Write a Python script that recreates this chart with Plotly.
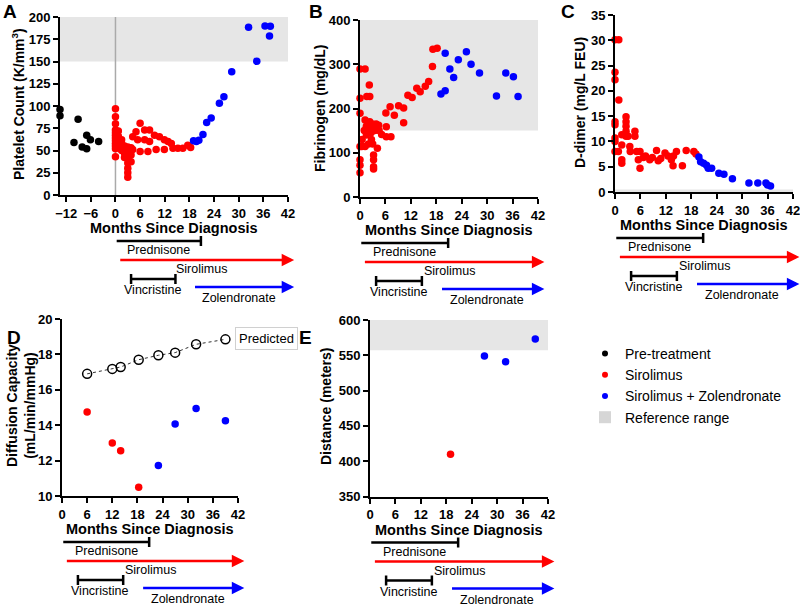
import plotly.graph_objects as go

# ---------------- data ----------------
# Panel A: platelet count (K/mm3)
pre_months = [-13.5, -13.5, -9.1, -10.1, -8.1, -7.0, -7.0, -6.1, -4.1]
pre_platelets = [96, 89, 85, 59, 54, 52, 67, 62, 60]

siro_plt_months = [0, 0, 0, 0, 0, 0, 0, 0, 0, 0, 0, 0,
                   0.7, 0.7, 0.7, 0.7, 1.5, 1.5, 1.5, 1.5, 2.2, 2.2, 2.2,
                   3.0, 3.0, 3.0, 3.0, 3.0, 3.0, 3.0, 3.8, 3.8, 3.8, 4.2, 4.2,
                   5.0, 5.4, 6.0, 6.0, 7.1, 7.1, 7.9, 8.3, 8.3, 9.5, 9.9,
                   10.7, 11.9, 11.9, 12.8, 13.6, 14.0, 15.2, 16.4, 17.6, 18.3]
siro_plt = [97, 88, 80, 73, 70, 67, 64, 61, 58, 55, 52, 43,
            72, 66, 60, 56, 62, 58, 54, 50, 55, 47, 42,
            54, 48, 42, 36, 30, 25, 20, 53, 45, 37.5, 65.5, 51,
            71, 62, 80.5, 49, 73, 62, 49, 73, 60, 67, 51,
            65.5, 62, 51, 60, 58, 52.5, 52.5, 52.5, 56, 53.5]

zol_plt_months = [19.0, 19.7, 20.3, 21.3, 22.2, 23.3, 25.3, 26.4, 28.3, 32.4, 34.4, 36.4, 37.7, 37.5]
zol_plt = [61, 60, 61.5, 68, 81.5, 86.5, 103, 110.5, 138.6, 188.4, 150.2, 190, 189.6, 178.6]

# Panel B: fibrinogen (mg/dL)
siro_fib_months = [0, 1.2, 0, 1.6, 2.2, 2.3, 0, 1.2, 0, 0.4, 0, 0, 0, 1.2, 0.5,
                   1.0, 1.5, 1.5, 2.0, 2.3, 2.6, 2.9, 3.2, 3.5, 3.8, 4.1, 4.4,
                   2.0, 2.7, 3.2, 3.2, 3.2, 3.2, 4.1, 3.0, 4.5, 5.1, 6.2, 6.2,
                   7.3, 6.1, 7.1, 8.1, 9.1, 10.3, 10.3, 11.3, 12.3, 13.4, 14.2,
                   15.4, 16.2, 17.1, 17.2, 18.2]
siro_fib = [289, 289, 223, 227, 253, 227, 189, 174, 114, 114, 84, 72, 55, 114, 130,
            150, 140, 160, 150, 170, 145, 165, 160, 150, 165, 155, 162,
            120, 130, 95, 84, 68.5, 63, 110, 120, 150, 141, 136, 159,
            136, 190, 204, 185, 206, 201, 168, 230, 225, 246, 238,
            250, 261, 295, 334, 336]
zol_fib_months = [19.1, 20.1, 20.1, 21.2, 22.1, 23.2, 25.1, 26.2, 28.2, 32.2, 34.4, 36.2, 37.3]
zol_fib = [233, 240, 325, 289, 270, 310, 328, 300, 280, 228, 280, 272, 227]

# Panel C: D-dimer (mg/L FEU)
siro_dd_months = [0, 0.9, 0, 0, 0.9, 0, 0, 0, 0, 0, 0.8, 1.6, 1.6, 1.6, 1.6,
                  2.6, 2.6, 2.6, 2.6, 2.6, 3.1, 3.5, 3.6, 4.7, 4.7, 5.1, 5.9, 5.9,
                  5.5, 6.7, 7.2, 8.2, 8.8, 9.8, 10.2, 10.8, 11.8, 12.5, 13.3,
                  13.8, 14.5, 15.9, 16.8, 18.6, 19.1, 13.7]
siro_dd = [30.1, 30.1, 23.7, 22.2, 18.2, 13.9, 13.3, 10.7, 10.0, 8.0, 8.0, 6.4, 5.7, 11.3, 9.3,
           14.9, 13.9, 13.0, 12.0, 11.0, 11.0, 9.0, 8.0, 12.0, 11.0, 8.0, 8.0, 4.7,
           6.4, 6.8, 7.1, 6.4, 6.8, 8.2, 6.2, 6.6, 7.7, 7.1, 6.4,
           7.1, 8.0, 5.2, 8.2, 8.0, 7.5, 5.2]
zol_dd_months = [19.8, 20.2, 20.9, 21.6, 22.0, 22.8, 24.5, 25.7, 27.7, 31.6, 33.7, 35.6, 36.0, 36.7]
zol_dd = [6.9, 6.0, 5.7, 5.3, 4.7, 4.7, 3.7, 3.5, 2.6, 1.8, 1.8, 1.8, 1.4, 1.2]

# Panel D: diffusion capacity (mL/min/mmHg)
dlco_pred_months = [6, 12, 14, 18.3, 23, 27, 32, 39]
dlco_pred = [16.9, 17.18, 17.29, 17.7, 17.95, 18.1, 18.57, 18.85]
siro_dlco_months = [6, 12, 14, 18.3]
siro_dlco = [14.75, 13.0, 12.56, 10.5]
zol_dlco_months = [23, 27, 32, 39]
zol_dlco = [11.73, 14.07, 14.95, 14.25]

# Panel E: six-minute walk distance (meters)
siro_walk_months = [19]
siro_walk = [410]
zol_walk_months = [27, 32, 39]
zol_walk = [549, 541, 573]

# reference ranges
ref_plt = (150, 200)
ref_fib = (150, 400)
ref_dd = (0, 0.5)
ref_walk = (557, 600)

# treatments (months)
prednisone = (0.3, 20.8)
sirolimus = (0.8, 43.5)
vincristine = (3.8, 14.6)
zolendronate = (19, 43.5)
label_pos = {"Prednisone": 10.5, "Sirolimus": 21, "Vincristine": 9, "Zolendronate": 30}

month_ticks_A = [-12, -6, 0, 6, 12, 18, 24, 30, 36, 42]
month_ticks = [0, 6, 12, 18, 24, 30, 36, 42]

# ---------------- layout helpers ----------------
W, H = 800, 605
FONT = "Liberation Sans, Arial, sans-serif"
RED, BLUE = "#ff0000", "#0000ff"
BAND = "#e6e6e6"


def px(p):
    return p / W


def py(p):
    return 1 - p / H


fig = go.Figure()

MS = 7.5


def dots(x, y, color, xa, ya):
    fig.add_trace(go.Scatter(x=x, y=y, mode="markers", xaxis=xa, yaxis=ya,
                             marker=dict(color=color, size=MS, line=dict(width=0)), showlegend=False,
                             cliponaxis=False, hoverinfo="x+y"))


# Panel A
dots(pre_months, pre_platelets, "black", "x", "y")
dots(siro_plt_months, siro_plt, RED, "x", "y")
dots(zol_plt_months, zol_plt, BLUE, "x", "y")
# Panel B
dots(siro_fib_months, siro_fib, RED, "x2", "y2")
dots(zol_fib_months, zol_fib, BLUE, "x2", "y2")
# Panel C
dots(siro_dd_months, siro_dd, RED, "x3", "y3")
dots(zol_dd_months, zol_dd, BLUE, "x3", "y3")
# Panel D
fig.add_trace(go.Scatter(x=dlco_pred_months, y=dlco_pred, mode="lines+markers", xaxis="x4", yaxis="y4",
                         line=dict(color="#333333", width=1, dash="dot"),
                         marker=dict(symbol="circle-open", color="black", size=9, line=dict(width=1.5)),
                         showlegend=False, cliponaxis=False))
dots(siro_dlco_months, siro_dlco, RED, "x4", "y4")
dots(zol_dlco_months, zol_dlco, BLUE, "x4", "y4")
# Panel E
dots(siro_walk_months, siro_walk, RED, "x5", "y5")
dots(zol_walk_months, zol_walk, BLUE, "x5", "y5")

# legend-only traces
for name, col in [("Pre-treatment", "black"), ("Sirolimus", RED), ("Sirolimus + Zolendronate", BLUE)]:
    fig.add_trace(go.Scatter(x=[None], y=[None], mode="markers", name=name,
                             marker=dict(color=col, size=6, line=dict(width=0)), xaxis="x", yaxis="y"))
fig.add_trace(go.Bar(x=[None], y=[None], name="Reference range",
                     marker=dict(color="#d6d6d6", line=dict(width=0)), xaxis="x", yaxis="y"))

# ---------------- axes ----------------
tickfont = dict(family=FONT, size=13, color="black", weight="bold")
common = dict(showline=True, linecolor="black", linewidth=2, ticks="outside", ticklen=5,
              tickwidth=2, tickcolor="black", showgrid=False, zeroline=False,
              tickfont=tickfont, fixedrange=True, automargin=False, ticklabeloverflow="allow")

panels = {
    # name: (x px left, x px right, y px top, y px bottom)
    "A": (60, 288, 17, 195),
    "B": (360, 538, 20, 197),
    "C": (615, 793, 15, 192),
    "D": (62, 238, 319, 496),
    "E": (370, 548, 320, 496.5),
}


def dom(p):
    l, r, t, b = panels[p]
    return [px(l), px(r)], [py(b), py(t)]


dxA, dyA = dom("A")
dxB, dyB = dom("B")
dxC, dyC = dom("C")
dxD, dyD = dom("D")
dxE, dyE = dom("E")

fig.update_layout(
    template="none",
    xaxis=dict(domain=dxA, range=[-13.5, 42], tickvals=month_ticks_A, anchor="y", **common),
    yaxis=dict(domain=dyA, range=[0, 200], tickvals=list(range(0, 201, 25)), anchor="x", **common),
    xaxis2=dict(domain=dxB, range=[0, 42], tickvals=month_ticks, anchor="y2", **common),
    yaxis2=dict(domain=dyB, range=[0, 400], tickvals=[0, 100, 200, 300, 400], anchor="x2", **common),
    xaxis3=dict(domain=dxC, range=[0, 42], tickvals=month_ticks, anchor="y3", **common),
    yaxis3=dict(domain=dyC, range=[0, 35], tickvals=list(range(0, 36, 5)), anchor="x3", **common),
    xaxis4=dict(domain=dxD, range=[0, 42], tickvals=month_ticks, anchor="y4", **common),
    yaxis4=dict(domain=dyD, range=[10, 20], tickvals=[10, 12, 14, 16, 18, 20], anchor="x4", **common),
    xaxis5=dict(domain=dxE, range=[0, 42], tickvals=month_ticks, anchor="y5", **common),
    yaxis5=dict(domain=dyE, range=[350, 600], tickvals=list(range(350, 601, 50)), anchor="x5", **common),
)

shapes = []
annotations = []

# reference bands
for xa, ya, rng in [("x", "y", ref_plt), ("x2", "y2", ref_fib), ("x3", "y3", ref_dd), ("x5", "y5", ref_walk)]:
    shapes.append(dict(type="rect", xref=xa + " domain", yref=ya, x0=0, x1=1, y0=rng[0], y1=rng[1],
                       fillcolor=BAND, line=dict(width=0), layer="below"))
# diagnosis line in A
shapes.append(dict(type="line", xref="x", yref="y domain", x0=0, x1=0, y0=0, y1=1,
                   line=dict(color="#aaaaaa", width=1.5), layer="below"))

# treatment timelines below each panel
axis_ids = {"A": "x", "B": "x2", "C": "x3", "D": "x4", "E": "x5"}
lab_font = dict(family=FONT, size=12.5, color="black")
for p, xa in axis_ids.items():
    base = panels[p][3]
    # Prednisone bar with end cap
    yb = py(base + 46)
    shapes.append(dict(type="line", xref=xa, yref="paper", x0=prednisone[0], x1=prednisone[1], y0=yb, y1=yb,
                       line=dict(color="black", width=2.5)))
    shapes.append(dict(type="line", xref=xa, yref="paper", x0=prednisone[1], x1=prednisone[1],
                       y0=py(base + 41), y1=py(base + 51), line=dict(color="black", width=2.5)))
    # Vincristine bar with caps
    yv = py(base + 84)
    shapes.append(dict(type="line", xref=xa, yref="paper", x0=vincristine[0], x1=vincristine[1], y0=yv, y1=yv,
                       line=dict(color="black", width=2.5)))
    for xv in vincristine:
        shapes.append(dict(type="line", xref=xa, yref="paper", x0=xv, x1=xv,
                           y0=py(base + 79), y1=py(base + 89), line=dict(color="black", width=2.5)))
    # arrows
    for (st, en), col, off in [(sirolimus, RED, 65), (zolendronate, BLUE, 92)]:
        annotations.append(dict(x=en, y=py(base + off), xref=xa, yref="paper", ax=st, ay=0,
                                axref=xa, ayref="pixel", showarrow=True, arrowhead=2, arrowsize=1,
                                arrowwidth=2.5, arrowcolor=col, text="", standoff=0))
    # labels
    for name, off in [("Prednisone", 55), ("Sirolimus", 74), ("Vincristine", 95), ("Zolendronate", 103)]:
        annotations.append(dict(x=label_pos[name], y=py(base + off), xref=xa, yref="paper", text=name,
                                showarrow=False, font=lab_font, xanchor="center", yanchor="middle"))
    # x-axis title
    annotations.append(dict(x=0.5, y=py(base + 33), xref=xa + " domain", yref="paper",
                            text="Months Since Diagnosis", showarrow=False,
                            font=dict(family=FONT, size=14.5, color="black", weight="bold"),
                            xanchor="center", yanchor="middle"))

# y-axis titles
ytitle_font = dict(family=FONT, size=14, color="black", weight="bold")
for txt, xx, yy in [("Platelet Count (K/mm<sup>3</sup>)", 18, 104),
                    ("Fibrinogen (mg/dL)", 320, 108),
                    ("D-dimer (mg/L FEU)", 580, 103),
                    ("Diffusion Capacity<br>(mL/min/mmHg)", 21, 406),
                    ("Distance (meters)", 326, 406)]:
    annotations.append(dict(x=px(xx), y=py(yy), xref="paper", yref="paper", text=txt, textangle=-90,
                            showarrow=False, font=ytitle_font, xanchor="center", yanchor="middle"))

# panel letters
for letter, xx, yy in [("A", 10, 12), ("B", 316, 12), ("C", 568, 12), ("D", 14, 337), ("E", 305, 337)]:
    annotations.append(dict(x=px(xx), y=py(yy), xref="paper", yref="paper", text=letter, showarrow=False,
                            font=dict(family=FONT, size=19, color="black", weight="bold"),
                            xanchor="center", yanchor="middle"))

# "Predicted" label in D
annotations.append(dict(x=px(266), y=py(338), xref="paper", yref="paper", text="Predicted", showarrow=False,
                        font=dict(family=FONT, size=13, color="black"), bordercolor="#d0d0d0",
                        borderwidth=1, borderpad=3, bgcolor="white", xanchor="center", yanchor="middle"))

fig.update_layout(
    shapes=shapes,
    annotations=annotations,
    width=W, height=H,
    margin=dict(l=0, r=0, t=0, b=0, pad=0),
    paper_bgcolor="white",
    plot_bgcolor="white",
    font=dict(family=FONT, color="black"),
    showlegend=True,
    hovermode="closest",
    legend=dict(x=px(585), y=py(338), xanchor="left", yanchor="top",
                font=dict(family=FONT, size=14, color="black"), bgcolor="rgba(0,0,0,0)",
                borderwidth=0, tracegroupgap=0, itemclick=False, itemdoubleclick=False),
)

# remove the default page margin so the 800x605 figure fills the window exactly
fig.write_html("out.html", config={"displayModeBar": False},
               post_script="document.body.style.margin='0';document.body.style.padding='0';")
